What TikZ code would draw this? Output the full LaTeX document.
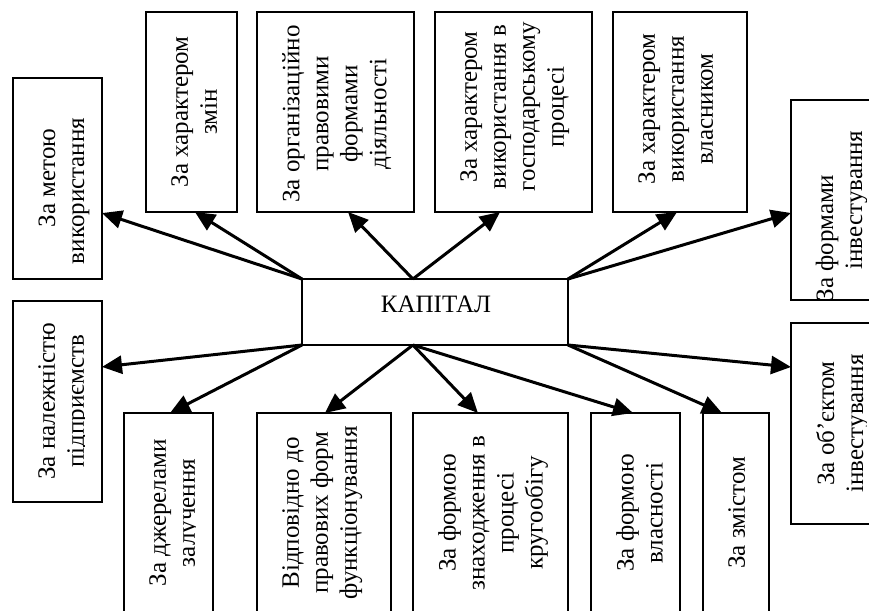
\documentclass[tikz,border=0pt]{standalone}
\usepackage{fontspec}
\setmainfont{Liberation Serif}
\usetikzlibrary{arrows.meta,calc}
\begin{document}
\begin{tikzpicture}[x=1pt,y=-1pt,
  frame/.style={draw, line width=2.4pt, fill=white, rectangle, inner sep=0pt, outer sep=0pt},
  vtext/.style={rotate=90, anchor=north, align=center, inner sep=0pt, font=\fontsize{25}{29}\selectfont},
  vline/.style={rotate=90, anchor=base, inner sep=0pt, font=\fontsize{25}{29}\selectfont},
  htext/.style={anchor=center, inner sep=0pt, font=\fontsize{25}{29}\selectfont},
  link/.style={line width=3pt, -{Triangle[length=20pt,width=18pt]}}]
\useasboundingbox (0,0) rectangle (869,610);
\clip (0,0) rectangle (869,610);

% central box
\node[frame, minimum width=266pt, minimum height=66pt] (cap) at (435,312) {};
\node[htext] (cap-t) at (436,304) {КАПІТАЛ};
\coordinate (cap-top) at ($(cap.north west)!0.417!(cap.north east)$);
\coordinate (cap-bot) at ($(cap.south west)!0.417!(cap.south east)$);

% upper row
\node[frame, minimum width=89pt,  minimum height=201pt] (metoyu)  at (57.5,178.5) {};
\node[frame, minimum width=91pt,  minimum height=200pt] (zmin)    at (191.5,112) {};
\node[frame, minimum width=157pt, minimum height=200pt] (org)     at (335.5,112) {};
\node[frame, minimum width=157pt, minimum height=200pt] (gosp)    at (513.5,112) {};
\node[frame, minimum width=134pt, minimum height=200pt] (vlasnyk) at (680,112) {};
\node[frame, minimum width=89pt,  minimum height=200pt] (formy)   at (835.5,200) {};

% lower row
\node[frame, minimum width=89pt,  minimum height=201pt] (nalezh)   at (57.5,401.5) {};
\node[frame, minimum width=89pt,  minimum height=200pt] (dzherela) at (168.5,513) {};
\node[frame, minimum width=134pt, minimum height=200pt] (vidp)     at (324,513) {};
\node[frame, minimum width=155pt, minimum height=200pt] (znakh)    at (490.5,513) {};
\node[frame, minimum width=89pt,  minimum height=200pt] (vlasn)    at (635.5,513) {};
\node[frame, minimum width=66pt,  minimum height=200pt] (zmist)    at (736,513) {};
\node[frame, minimum width=89pt,  minimum height=201pt] (obyekt)   at (835.5,423.5) {};

% labels
\node[vline] (metoyu-a) at (55,178) {За метою};
\node[vline] (metoyu-b) at (84,191) {використання};
\node[vtext] (zmin-t) at (171,112) {За характером\\змін};
\node[vtext] (org-t) at (282,114) {За організаційно\\правовими\\формами\\діяльності};
\node[vtext] (gosp-t) at (460,107) {За характером\\використання в\\господарському\\процесі};
\begin{scope}
  \clip (613,12) rectangle (712,212);
  \node[vtext] (vlasnyk-t) at (638,109) {За характером\\використання\\власником};
\end{scope}
\begin{scope}
  \clip (791,100) rectangle (866,300);
  \node[vline] (formy-a) at (833,238) {За формами};
  \node[vline] (formy-b) at (862,200) {інвестування};
\end{scope}
\begin{scope}
  \clip (13,301) rectangle (84,502);
  \node[vtext] (nalezh-t) at (38,401.5) {За належністю\\підприємств};
\end{scope}
\begin{scope}
  \clip (124,413) rectangle (195,613);
  \node[vtext] (dzherela-t) at (149,513) {За джерелами\\залучення};
\end{scope}
\node[vtext] (vidp-t) at (282,513) {Відповідно до\\правових форм\\функціонування};
\node[vtext] (znakh-t) at (438,513) {За формою\\знаходження в\\процесі\\кругообігу};
\node[vtext] (vlasn-t) at (616,513) {За формою\\власності};
\node[vtext] (zmist-t) at (728,513) {За змістом};
\begin{scope}
  \clip (791,323) rectangle (866,524);
  \node[vtext] (obyekt-t) at (816,423.5) {За об’єктом\\інвестування};
\end{scope}

% connectors
\draw[link] (cap.north west) -- ($(metoyu.north east)!0.672!(metoyu.south east)$);
\draw[link] (cap.north west) -- ($(zmin.south west)!0.538!(zmin.south east)$);
\draw[link] (cap-top) -- ($(org.south west)!0.58!(org.south east)$);
\draw[link] (cap-top) -- ($(gosp.south west)!0.414!(gosp.south east)$);
\draw[link] (cap.north east) -- ($(vlasnyk.south west)!0.478!(vlasnyk.south east)$);
\draw[link] (cap.north east) -- ($(formy.north west)!0.565!(formy.south west)$);
\draw[link] (cap.south west) -- ($(nalezh.north east)!0.328!(nalezh.south east)$);
\draw[link] (cap.south west) -- ($(dzherela.north west)!0.517!(dzherela.north east)$);
\draw[link] (cap-bot) -- ($(vidp.north west)!0.507!(vidp.north east)$);
\draw[link] (cap-bot) -- ($(znakh.north west)!0.419!(znakh.north east)$);
\draw[link] (cap-bot) -- ($(vlasn.north west)!0.472!(vlasn.north east)$);
\draw[link] (cap.south east) -- ($(zmist.north west)!0.288!(zmist.north east)$);
\draw[link] (cap.south east) -- ($(obyekt.north west)!0.219!(obyekt.south west)$);
\end{tikzpicture}
\end{document}
